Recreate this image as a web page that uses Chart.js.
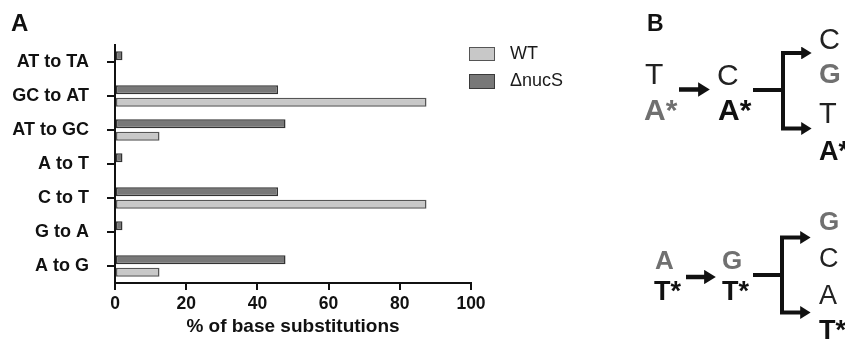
<!DOCTYPE html>
<html>
<head>
<meta charset="utf-8">
<script src="https://cdn.jsdelivr.net/npm/chart.js@4"></script>
<style>
  html, body { margin: 0; padding: 0; background: #fff; }
  #wrap { position: relative; width: 845px; height: 343px; overflow: hidden; font-family: "Liberation Sans", Arial, sans-serif; }
  #c { position: absolute; left: 0; top: 0; }
  #ov { position: absolute; left: 0; top: 0; pointer-events: none; }
  .lg { position: absolute; font-size: 18px; color: #1a1a1a; }
  .lgbox { position: absolute; box-sizing: border-box; border: 1.5px solid #3a3a3a; }
</style>
</head>
<body>
<div id="wrap">
  <canvas id="c" width="845" height="343"></canvas>
  <div class="lgbox" style="left:469px;top:47px;width:26px;height:14px;background:#c8c8c8;border-color:#555"></div>
  <div class="lg" style="left:510px;top:43px;">WT</div>
  <div class="lgbox" style="left:469px;top:74px;width:26px;height:15px;background:#787878;"></div>
  <div class="lg" style="left:510px;top:70px;">ΔnucS</div>
  <svg id="ov" width="845" height="343" xmlns="http://www.w3.org/2000/svg" font-family="Liberation Sans, Arial, sans-serif">
    <defs>
      <marker id="ah" markerWidth="3" markerHeight="3.2" refX="0.2" refY="1.6" orient="auto" markerUnits="strokeWidth">
        <path d="M0,0 L2.6,1.6 L0,3.2 Z" fill="#111"/>
      </marker>
    </defs>
    <text x="11" y="31" font-size="24" font-weight="bold" fill="#111">A</text>
    <text x="647" y="31" font-size="23" font-weight="bold" fill="#111">B</text>

    <!-- upper scheme -->
    <text x="645" y="84" font-size="30" fill="#222">T</text>
    <text x="644" y="120" font-size="30" font-weight="bold" fill="#707070">A*</text>
    <line x1="679" y1="89.5" x2="699" y2="89.5" stroke="#111" stroke-width="4.5" marker-end="url(#ah)"/>
    <text x="717" y="85" font-size="30" fill="#222">C</text>
    <text x="718" y="120" font-size="30" font-weight="bold" fill="#111">A*</text>
    <path d="M753,90 H783 M783,51 V130" stroke="#111" stroke-width="4" fill="none"/>
    <line x1="781" y1="53" x2="802" y2="53" stroke="#111" stroke-width="4" marker-end="url(#ah)"/>
    <line x1="781" y1="128.5" x2="802" y2="128.5" stroke="#111" stroke-width="4" marker-end="url(#ah)"/>
    <text x="819" y="49" font-size="29" fill="#222">C</text>
    <text x="819" y="83" font-size="28" font-weight="bold" fill="#707070">G</text>
    <text x="819" y="123" font-size="29" fill="#222">T</text>
    <text x="819" y="160" font-size="27" font-weight="bold" fill="#111">A*</text>

    <!-- lower scheme -->
    <text x="655" y="268.5" font-size="26" font-weight="bold" fill="#707070">A</text>
    <text x="654" y="300" font-size="27" font-weight="bold" fill="#111">T*</text>
    <line x1="686" y1="277" x2="705" y2="277" stroke="#111" stroke-width="4.5" marker-end="url(#ah)"/>
    <text x="722" y="268.5" font-size="26" font-weight="bold" fill="#707070">G</text>
    <text x="722" y="300" font-size="27" font-weight="bold" fill="#111">T*</text>
    <path d="M753,275 H782 M782,236 V314" stroke="#111" stroke-width="4" fill="none"/>
    <line x1="780" y1="237.5" x2="801" y2="237.5" stroke="#111" stroke-width="4" marker-end="url(#ah)"/>
    <line x1="780" y1="312.5" x2="801" y2="312.5" stroke="#111" stroke-width="4" marker-end="url(#ah)"/>
    <text x="819" y="229.5" font-size="26" font-weight="bold" fill="#707070">G</text>
    <text x="819" y="267" font-size="27" fill="#222">C</text>
    <text x="819" y="304" font-size="27" fill="#222">A</text>
    <text x="819" y="338.5" font-size="27" font-weight="bold" fill="#111">T*</text>
  </svg>
</div>
<script>
const categories = ['AT to TA', 'GC to AT', 'AT to GC', 'A to T', 'C to T', 'G to A', 'A to G'];
const nucSValues = [2.1, 45.8, 47.9, 2.1, 45.8, 2.1, 47.9];
const wtValues   = [0, 87.5, 12.5, 0, 87.5, 0, 12.5];
const xTickValues = [0, 20, 40, 60, 80, 100];
const seriesNames = ['ΔnucS', 'WT'];
const xTitle = '% of base substitutions';

const FONT = '"Liberation Sans", Arial, sans-serif';
const bw = (c) => (c.raw ? 1.5 : 0);

new Chart(document.getElementById('c'), {
  type: 'bar',
  data: {
    labels: categories,
    datasets: [
      { label: seriesNames[0], data: nucSValues, backgroundColor: '#787878', borderColor: '#333', borderWidth: bw, borderSkipped: false },
      { label: seriesNames[1], data: wtValues, backgroundColor: '#c8c8c8', borderColor: '#555', borderWidth: bw, borderSkipped: false }
    ]
  },
  options: {
    indexAxis: 'y',
    responsive: false,
    animation: false,
    events: [],
    categoryPercentage: 0.73,
    barPercentage: 0.72,
    layout: { padding: { left: 0, top: 45, right: 374, bottom: 0 } },
    plugins: { legend: { display: false }, tooltip: { enabled: false } },
    scales: {
      y: {
        grid: { offset: false, drawOnChartArea: false, tickLength: 8, color: '#111', lineWidth: 2 },
        border: { display: true, color: '#111', width: 2 },
        ticks: { color: '#111', padding: 18, font: { family: FONT, size: 18, weight: 'bold' } },
        afterFit: (s) => { s.width = 115; }
      },
      x: {
        min: 0, max: 100,
        afterBuildTicks: (s) => { s.ticks = xTickValues.map(v => ({ value: v })); },
        grid: { drawOnChartArea: false, tickLength: 7, color: '#111', lineWidth: 2 },
        border: { display: true, color: '#111', width: 2 },
        ticks: { color: '#111', padding: 4, font: { family: FONT, size: 17.5, weight: 'bold' } },
        title: { display: true, text: xTitle, color: '#111', padding: { top: 2, bottom: 5 }, font: { family: FONT, size: 19, weight: 'bold' } },
        afterFit: (s) => { s.height = 60; }
      }
    }
  }
});
</script>
</body>
</html>
